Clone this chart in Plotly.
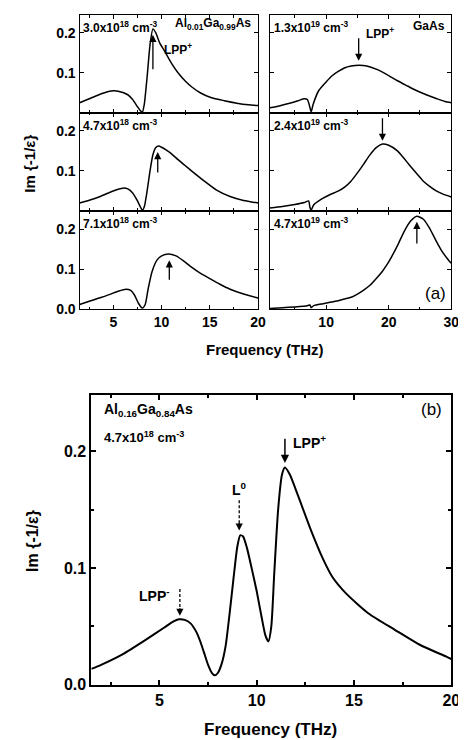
import plotly.graph_objects as go

W, H = 466, 740

# ---------------- data ----------------
# Panel (a), Al0.01Ga0.99As
tl_f = [1.5, 2.5, 3.5, 4.5, 5.0, 5.5, 6.5, 7.0, 7.5, 7.8, 8.0, 8.2, 8.5, 8.8, 9.1, 9.4, 9.8, 10.3, 11.0, 11.7, 12.5, 13.1, 14.0, 15.1, 16.5, 17.8, 19.0, 20.0]
tl_v = [0.025, 0.035, 0.045, 0.053, 0.055, 0.054, 0.045, 0.033, 0.015, 0.005, 0.001, 0.02, 0.09, 0.17, 0.21, 0.2, 0.175, 0.155, 0.125, 0.1, 0.078, 0.065, 0.05, 0.038, 0.03, 0.024, 0.02, 0.018]

ml_f = [1.5, 2.5, 3.5, 4.5, 5.5, 6.0, 6.5, 7.0, 7.5, 7.8, 8.0, 8.2, 8.5, 8.8, 9.1, 9.4, 9.7, 10.0, 10.5, 11.0, 11.7, 12.4, 13.1, 14.4, 15.7, 17.1, 18.5, 20.0]
ml_v = [0.02, 0.027, 0.035, 0.045, 0.054, 0.057, 0.055, 0.045, 0.025, 0.01, 0.002, 0.01, 0.05, 0.1, 0.14, 0.158, 0.162, 0.159, 0.152, 0.143, 0.128, 0.114, 0.1, 0.075, 0.052, 0.036, 0.026, 0.02]

bl_f = [1.5, 2.5, 3.5, 4.5, 5.5, 6.3, 6.8, 7.2, 7.6, 8.0, 8.3, 8.6, 9.0, 9.5, 10.0, 10.7, 11.5, 12.3, 13.1, 14.0, 15.1, 16.0, 17.1, 18.5, 20.0]
bl_v = [0.012, 0.02, 0.028, 0.036, 0.045, 0.05, 0.047, 0.035, 0.015, 0.003, 0.012, 0.05, 0.093, 0.122, 0.133, 0.138, 0.133, 0.12, 0.105, 0.09, 0.075, 0.063, 0.05, 0.038, 0.028]

# Panel (a), GaAs
tr_f = [1.0, 2.5, 4.0, 5.5, 6.5, 7.0, 7.3, 7.6, 7.9, 8.8, 10.0, 10.9, 12.0, 12.9, 14.0, 15.3, 16.5, 18.2, 20.0, 21.4, 23.0, 24.5, 26.0, 27.7, 29.0, 30.0]
tr_v = [0.0125, 0.017, 0.023, 0.03, 0.035, 0.033, 0.02, 0.002, 0.02, 0.055, 0.077, 0.092, 0.104, 0.112, 0.117, 0.119, 0.117, 0.108, 0.093, 0.08, 0.067, 0.055, 0.045, 0.035, 0.028, 0.025]

mr_f = [1.0, 3.0, 5.0, 6.5, 7.2, 7.4, 7.6, 8.0, 9.3, 10.5, 12.0, 13.0, 14.0, 15.0, 16.0, 17.0, 18.0, 19.0, 20.0, 21.4, 22.4, 23.4, 24.5, 25.5, 26.5, 27.6, 28.7, 30.0]
mr_v = [0.0075, 0.011, 0.016, 0.021, 0.025, 0.01, 0.002, 0.015, 0.03, 0.04, 0.05, 0.06, 0.075, 0.095, 0.117, 0.14, 0.158, 0.167, 0.164, 0.15, 0.132, 0.113, 0.093, 0.075, 0.062, 0.05, 0.042, 0.035]

br_f = [1.0, 3.0, 5.0, 7.0, 7.4, 7.6, 8.0, 9.5, 10.9, 12.5, 14.0, 15.0, 16.0, 17.0, 18.3, 19.0, 19.8, 20.5, 21.5, 22.5, 23.5, 24.5, 25.5, 26.5, 27.6, 28.5, 29.7, 30.0]
br_v = [0.002, 0.004, 0.006, 0.009, 0.011, 0.004, 0.009, 0.014, 0.018, 0.024, 0.03, 0.038, 0.048, 0.06, 0.082, 0.095, 0.113, 0.132, 0.162, 0.195, 0.22, 0.232, 0.225, 0.203, 0.17, 0.145, 0.12, 0.115]

# Panel (b), Al0.16Ga0.84As
b_f = [1.5, 2.0, 3.1, 4.25, 5.25, 5.7, 6.0, 6.3, 6.6, 6.9, 7.1, 7.3, 7.5, 7.7, 7.85, 8.0, 8.2, 8.4, 8.6, 8.8, 9.0, 9.15, 9.3, 9.5, 9.75, 10.0, 10.25, 10.45, 10.6, 10.75, 10.9, 11.1, 11.3, 11.45, 11.7, 12.1, 12.75, 13.4, 13.9, 14.6, 15.75, 17.1, 18.4, 19.75, 20.0]
b_v = [0.0135, 0.017, 0.026, 0.038, 0.049, 0.054, 0.056, 0.0555, 0.0525, 0.045, 0.037, 0.027, 0.017, 0.01, 0.008, 0.01, 0.018, 0.033, 0.06, 0.09, 0.118, 0.128, 0.127, 0.117, 0.099, 0.08, 0.058, 0.042, 0.037, 0.05, 0.095, 0.15, 0.18, 0.186, 0.18, 0.163, 0.134, 0.108, 0.092, 0.078, 0.061, 0.047, 0.034, 0.024, 0.022]

# density labels
dens_a = ["3.0x10<sup>18</sup> cm<sup>-3</sup>", "4.7x10<sup>18</sup> cm<sup>-3</sup>", "7.1x10<sup>18</sup> cm<sup>-3</sup>",
          "1.3x10<sup>19</sup> cm<sup>-3</sup>", "2.4x10<sup>19</sup> cm<sup>-3</sup>", "4.7x10<sup>19</sup> cm<sup>-3</sup>"]
# arrows panel (a): (freq, tail value, head value)
arrows_a = [(9.1, 0.105, 0.195), (9.6, 0.092, 0.147), (10.8, 0.07, 0.122),
            (15.2, 0.19, 0.13), (19.0, 0.235, 0.175), (24.5, 0.16, 0.218)]

left_minor = [2.5, 7.5, 12.5, 17.5]
right_minor = [5, 15, 25]

FONT = "Liberation Sans, Arial, sans-serif"

fig = go.Figure()

def xd(a, b):
    return [a / W, b / W]

def yd(top, bottom):
    return [1 - bottom / H, 1 - top / H]

rows = [(7, 106), (106, 205.5), (205.5, 305)]
series = [(tl_f, tl_v), (ml_f, ml_v), (bl_f, bl_v), (tr_f, tr_v), (mr_f, mr_v), (br_f, br_v)]

layout = dict(width=W, height=H, margin=dict(l=0, r=0, t=0, b=0),
              paper_bgcolor="white", plot_bgcolor="white", showlegend=False,
              font=dict(family=FONT, color="black"))
annotations = []

for i in range(6):
    k = i + 1
    xn = "xaxis" if k == 1 else f"xaxis{k}"
    yn = "yaxis" if k == 1 else f"yaxis{k}"
    xr = "x" if k == 1 else f"x{k}"
    yr = "y" if k == 1 else f"y{k}"
    left = i < 3
    row = rows[i % 3]
    bottom_row = (i % 3) == 2
    f, v = series[i]
    fig.add_trace(go.Scatter(x=f, y=v, mode="lines", xaxis=xr, yaxis=yr,
                             line=dict(color="black", width=1.5, shape="spline", smoothing=0.6),
                             hoverinfo="skip"))
    layout[xn] = dict(domain=xd(73, 255) if left else xd(267, 452),
                      range=[1.5, 20] if left else [1.0, 30], anchor=yr,
                      showline=True, linecolor="black", linewidth=1.3, mirror="allticks",
                      ticks="inside", ticklen=4, tickwidth=1, tickcolor="black",
                      tickvals=[5, 10, 15, 20] if left else [10, 20, 30],
                      minor=dict(ticks="inside", ticklen=2.5, tickvals=left_minor if left else right_minor,
                                 tickcolor="black", tickwidth=1),
                      showgrid=False, zeroline=False, showticklabels=bottom_row,
                      tickfont=dict(family=FONT, size=14, weight="bold"))
    layout[yn] = dict(domain=yd(*row), range=[0, 0.245], anchor=xr,
                      showline=True, linecolor="black", linewidth=1.3, mirror="allticks",
                      ticks="inside", ticklen=4, tickwidth=1, tickcolor="black",
                      tickvals=[0, 0.1, 0.2] if bottom_row else [0.1, 0.2], tickformat=".1f",
                      showgrid=False, zeroline=False, showticklabels=left,
                      tickfont=dict(family=FONT, size=14, weight="bold"))
    annotations.append(dict(text=dens_a[i], xref=f"{xr} domain", yref=f"{yr} domain",
                            x=0.01, y=0.98, xanchor="left", yanchor="top", showarrow=False,
                            font=dict(family=FONT, size=12, weight="bold")))
    fa, tail, head = arrows_a[i]
    annotations.append(dict(text="", x=fa, y=head, ax=fa, ay=tail, xref=xr, yref=yr,
                            axref=xr, ayref=yr, showarrow=True, arrowhead=2, arrowsize=1.1,
                            arrowwidth=1.3, arrowcolor="black"))

annotations += [
    dict(text="Al<sub>0.01</sub>Ga<sub>0.99</sub>As", x=11.2, y=0.222, xref="x", yref="y",
         xanchor="left", yanchor="middle", showarrow=False, font=dict(family=FONT, size=12, weight="bold")),
    dict(text="LPP<sup>+</sup>", x=10.0, y=0.16, xref="x", yref="y",
         xanchor="left", yanchor="middle", showarrow=False, font=dict(family=FONT, size=12, weight="bold")),
    dict(text="LPP<sup>+</sup>", x=16.0, y=0.2, xref="x4", yref="y4",
         xanchor="left", yanchor="middle", showarrow=False, font=dict(family=FONT, size=12, weight="bold")),
    dict(text="GaAs", x=29.3, y=0.218, xref="x4", yref="y4",
         xanchor="right", yanchor="middle", showarrow=False, font=dict(family=FONT, size=12, weight="bold")),
    dict(text="(a)", x=0.98, y=0.04, xref="x6 domain", yref="y6 domain",
         xanchor="right", yanchor="bottom", showarrow=False, font=dict(family=FONT, size=17)),
    dict(text="Im {-1/ε}", x=22 / W, y=1 - 158 / H, xref="paper", yref="paper", textangle=-90,
         xanchor="center", yanchor="middle",
         showarrow=False, font=dict(family=FONT, size=15, weight="bold")),
    dict(text="Frequency (THz)", x=262 / W, y=1 - 346 / H, xref="paper", yref="paper",
         xanchor="center", yanchor="middle",
         showarrow=False, font=dict(family=FONT, size=15, weight="bold")),
]

# ---------------- panel (b) ----------------
fig.add_trace(go.Scatter(x=b_f, y=b_v, mode="lines", xaxis="x7", yaxis="y7",
                         line=dict(color="black", width=2, shape="spline", smoothing=0.6),
                         hoverinfo="skip"))
layout["xaxis7"] = dict(domain=xd(85, 452), range=[1.5, 20], anchor="y7",
                        showline=True, linecolor="black", linewidth=2, mirror="allticks",
                        ticks="inside", ticklen=5, tickwidth=1.5, tickcolor="black",
                        tickvals=[5, 10, 15, 20],
                        minor=dict(ticks="inside", ticklen=3, tickvals=left_minor, tickcolor="black"),
                        showgrid=False, zeroline=False,
                        tickfont=dict(family=FONT, size=16, weight="bold"))
layout["yaxis7"] = dict(domain=yd(392, 685), range=[0, 0.248], anchor="x7",
                        showline=True, linecolor="black", linewidth=2, mirror="allticks",
                        ticks="inside", ticklen=5, tickwidth=1.5, tickcolor="black",
                        tickvals=[0, 0.1, 0.2], tickformat=".1f",
                        minor=dict(ticks="inside", ticklen=3, tickvals=[0.05, 0.15], tickcolor="black"),
                        showgrid=False, zeroline=False,
                        tickfont=dict(family=FONT, size=16, weight="bold"))

arrows_b = [(6.05, 0.082, 0.059, True), (9.1, 0.158, 0.132, True), (11.45, 0.212, 0.19, False)]
shapes = []
for fa, tail, head, dashed in arrows_b:
    if dashed:
        shapes.append(dict(type="line", xref="x7", yref="y7", x0=fa, x1=fa, y0=tail, y1=head + 0.006,
                           line=dict(color="black", width=1.3, dash="3px,2px")))
        annotations.append(dict(text="", x=fa, y=head, ax=0, ay=-9, xref="x7", yref="y7",
                                showarrow=True, arrowhead=2, arrowsize=1.1, arrowwidth=1.3, arrowcolor="black"))
    else:
        annotations.append(dict(text="", x=fa, y=head, ax=fa, ay=tail, xref="x7", yref="y7",
                                axref="x7", ayref="y7", showarrow=True, arrowhead=2, arrowsize=1.1,
                                arrowwidth=1.5, arrowcolor="black"))

annotations += [
    dict(text="Al<sub>0.16</sub>Ga<sub>0.84</sub>As", x=0.03, y=0.95, xref="x7 domain", yref="y7 domain",
         xanchor="left", yanchor="middle", showarrow=False, font=dict(family=FONT, size=14, weight="bold")),
    dict(text="4.7x10<sup>18</sup> cm<sup>-3</sup>", x=0.03, y=0.855, xref="x7 domain", yref="y7 domain",
         xanchor="left", yanchor="middle", showarrow=False, font=dict(family=FONT, size=13, weight="bold")),
    dict(text="(b)", x=0.98, y=0.95, xref="x7 domain", yref="y7 domain",
         xanchor="right", yanchor="middle", showarrow=False, font=dict(family=FONT, size=17)),
    dict(text="LPP<sup>-</sup>", x=4.75, y=0.077, xref="x7", yref="y7",
         showarrow=False, font=dict(family=FONT, size=14, weight="bold")),
    dict(text="L<sup>0</sup>", x=9.1, y=0.168, xref="x7", yref="y7",
         showarrow=False, font=dict(family=FONT, size=14, weight="bold")),
    dict(text="LPP<sup>+</sup>", x=11.75, y=0.208, xref="x7", yref="y7", xanchor="left",
         showarrow=False, font=dict(family=FONT, size=14, weight="bold")),
    dict(text="Im {-1/ε}", x=25 / W, y=1 - 540 / H, xref="paper", yref="paper", textangle=-90,
         xanchor="center", yanchor="middle",
         showarrow=False, font=dict(family=FONT, size=16, weight="bold")),
    dict(text="Frequency (THz)", x=268 / W, y=1 - 730 / H, xref="paper", yref="paper",
         xanchor="center", yanchor="middle",
         showarrow=False, font=dict(family=FONT, size=17, weight="bold")),
]

layout["annotations"] = annotations
layout["shapes"] = shapes
fig.update_layout(**layout)
fig.write_html("out.html")
